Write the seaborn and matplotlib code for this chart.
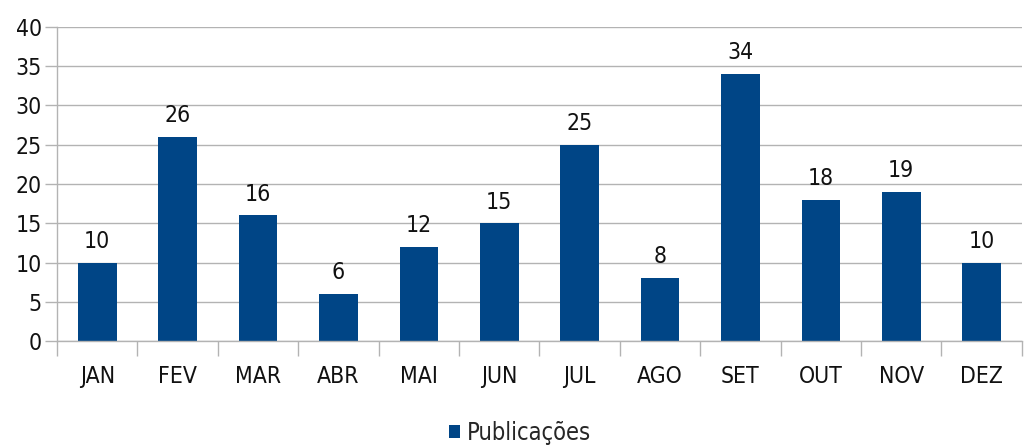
import matplotlib
matplotlib.use("Agg")
import matplotlib.pyplot as plt
import seaborn as sns
import pandas as pd
import numpy as np

# dados
meses = ["JAN", "FEV", "MAR", "ABR", "MAI", "JUN", "JUL", "AGO", "SET", "OUT", "NOV", "DEZ"]
publicacoes = [10, 26, 16, 6, 12, 15, 25, 8, 34, 18, 19, 10]

df = pd.DataFrame({"mes": meses, "Publicações": publicacoes})

sns.set_theme(style="white")
plt.rcParams['font.family'] = ['DejaVu Sans']
plt.rcParams['font.stretch'] = 'condensed'

cor = "#004586"
cinza = "#b3b3b3"
texto = "#111111"
fs = 16.5

fig = plt.figure(figsize=(10.26, 4.46), dpi=100)
ax = fig.add_axes([0.0556, 0.2354, 0.9404, 0.7041])

sns.barplot(data=df, x="mes", y="Publicações", color=cor, width=0.48,
            saturation=1, label="Publicações", linewidth=0, ax=ax)

ax.bar_label(ax.containers[0], fontsize=fs, padding=7, color=texto)

ax.set_ylim(0, 40)
ax.set_yticks(range(0, 41, 5))
ax.set_xlim(-0.5, len(meses) - 0.5)
ax.yaxis.grid(True, color=cinza, linewidth=1)
ax.set_axisbelow(True)
ax.set_xlabel("")
ax.set_ylabel("")

for s in ["top", "right"]:
    ax.spines[s].set_visible(False)
for s in ["left", "bottom"]:
    ax.spines[s].set_color(cinza)
    ax.spines[s].set_linewidth(1)

# marcas entre as categorias
ax.set_xticks(np.arange(-0.5, len(meses), 1), minor=True)
ax.tick_params(axis="x", which="minor", length=11, color=cinza, width=1, bottom=True)
ax.tick_params(axis="x", which="major", length=0, pad=17, labelsize=fs, labelcolor=texto)
ax.tick_params(axis="y", length=9, color=cinza, width=1, pad=2, labelsize=fs,
               labelcolor=texto, left=True)

ax.legend(loc="center", bbox_to_anchor=(0.507, 0.03), bbox_transform=fig.transFigure,
          frameon=False, fontsize=17, handlelength=0.45, handleheight=0.45,
          handletextpad=0.3)

fig.savefig("out.png", dpi=100)
